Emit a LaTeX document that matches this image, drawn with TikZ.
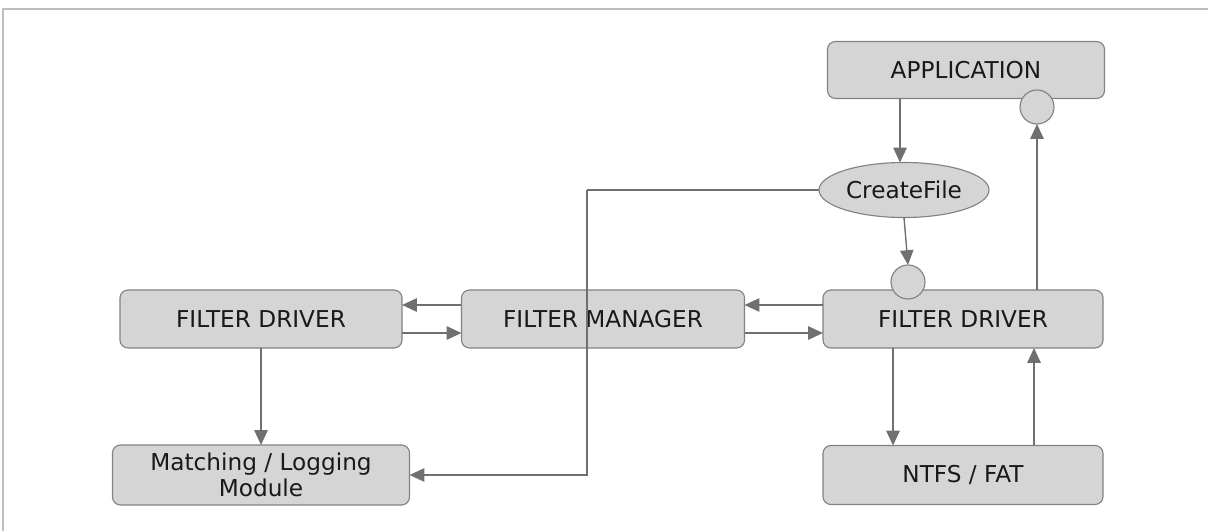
\documentclass[tikz,border=0pt]{standalone}
\usepackage{fontspec}
\setmainfont{DejaVu Sans}
\usetikzlibrary{arrows.meta,shapes.geometric}
\definecolor{boxfill}{RGB}{213,213,213}
\definecolor{boxline}{RGB}{130,130,130}
\definecolor{arrline}{RGB}{112,112,112}
\definecolor{framegray}{RGB}{190,190,190}
\begin{document}
\begin{tikzpicture}[x=0.025cm, y=-0.025cm,
    block/.style={draw=boxline, fill=boxfill, rounded corners=0.2cm, line width=0.8pt, inner sep=0, outer sep=0, align=center, text=black!90, font=\fontsize{16.5}{18}\selectfont},
    port/.style={circle, draw=boxline, fill=boxfill, line width=0.8pt, minimum size=0.85cm, inner sep=0, outer sep=0},
    arr/.style={draw=arrline, line width=1pt, -{Triangle[length=10.5pt, width=9.5pt]}},
    line/.style={draw=arrline, line width=1pt}]

        \useasboundingbox (0,0) rectangle (1208,531);
        \draw[framegray, line width=1.2pt] (1208,9) -- (3,9) -- (3,531);

        \draw (966,70) node[block, minimum width=6.925cm, minimum height=1.425cm] (app) {APPLICATION};

        \draw (904,190) node[ellipse, draw=boxline, fill=boxfill, line width=0.8pt, minimum width=4.25cm, minimum height=1.375cm, inner sep=0, outer sep=0, text=black!90, font=\fontsize{16.5}{18}\selectfont] (cf) {CreateFile};

        \draw (963,319) node[block, minimum width=7cm, minimum height=1.45cm] (fdr) {FILTER DRIVER};

        \draw (603,319) node[block, minimum width=7.075cm, minimum height=1.45cm] (fm) {FILTER MANAGER};

        \draw (261,319) node[block, minimum width=7.05cm, minimum height=1.45cm] (fdl) {FILTER DRIVER};

        \draw (261,475) node[block, minimum width=7.425cm, minimum height=1.5cm] (mlm) {Matching / Logging\\Module};

        \draw (963,475) node[block, minimum width=7cm, minimum height=1.475cm] (ntfs) {NTFS / FAT};

        \draw (1037,107) node[port] (appc) {};

        \draw (908,282) node[port] (fdc) {};

        \coordinate (bend) at (587,190);

        % connectors
        \draw[arr] (app.south -| 900,0) -- (cf.north -| 900,0);
        \draw[arr] (cf.south) -- (fdc.north);
        \draw[line] (bend) -- (cf.west);
        \draw[arr] (bend) |- (mlm.east);
        \draw[arr] (fdr.north -| appc) -- (appc.south);

        \draw[arr] ([yshift=0.35cm]fdr.west) -- ([yshift=0.35cm]fm.east);
        \draw[arr] ([yshift=-0.35cm]fm.east) -- ([yshift=-0.35cm]fdr.west);
        \draw[arr] ([yshift=0.35cm]fm.west) -- ([yshift=0.35cm]fdl.east);
        \draw[arr] ([yshift=-0.35cm]fdl.east) -- ([yshift=-0.35cm]fm.west);

        \draw[arr] (fdl.south) -- (mlm.north);
        \draw[arr] ([xshift=-1.75cm]fdr.south) -- ([xshift=-1.75cm]ntfs.north);
        \draw[arr] (ntfs.north -| 1034,0) -- (fdr.south -| 1034,0);
      \end{tikzpicture}
\end{document}
